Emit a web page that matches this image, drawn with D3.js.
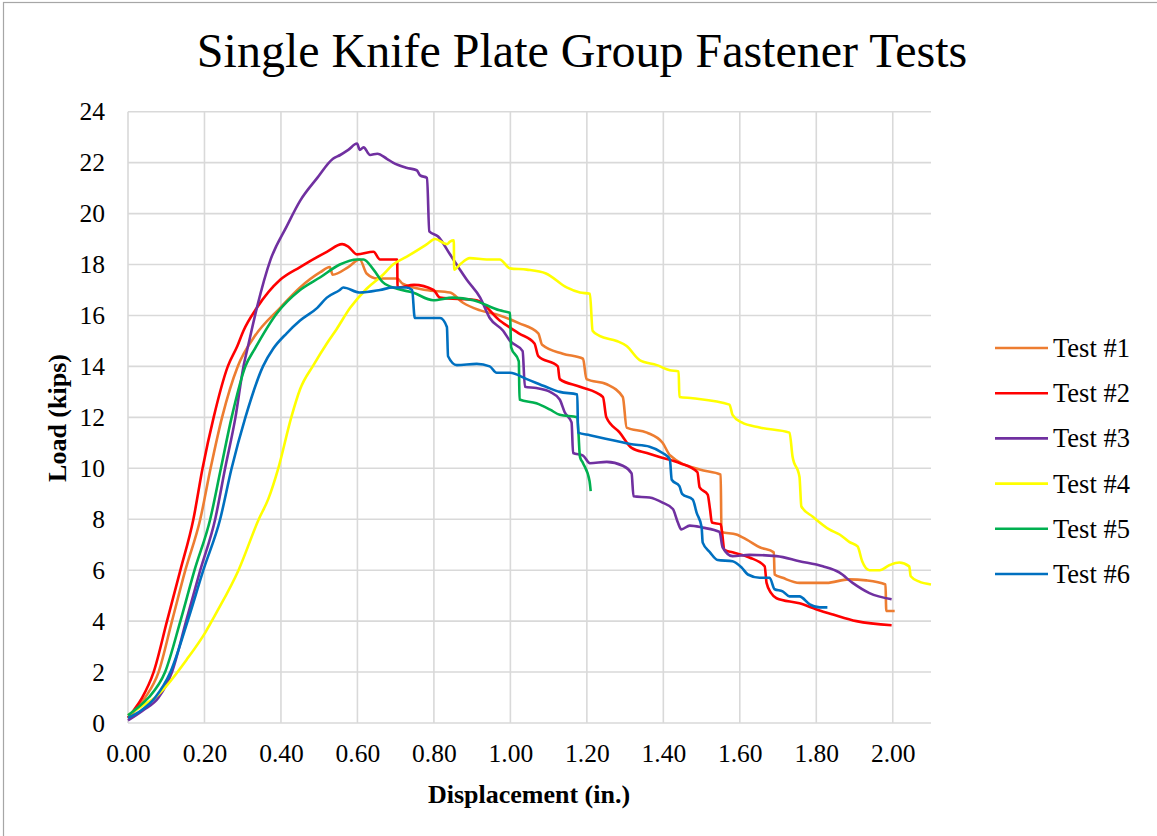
<!DOCTYPE html>
<html>
<head>
<meta charset="utf-8">
<script src="https://cdn.jsdelivr.net/npm/d3@7"></script>
<style>
  body { margin: 0; background: #fff; }
  svg { display: block; font-family: "Liberation Serif", "Times New Roman", serif; }
</style>
</head>
<body>
<svg id="chart" width="1157" height="836"></svg>
<script>
// series names + colours (legend order)
const seriesNames = ['Test #1', 'Test #2', 'Test #3', 'Test #4', 'Test #5', 'Test #6'];
const seriesColors = ['#ED7D31', '#FF0000', '#7030A0', '#FFFF00', '#00B050', '#0070C0'];

// [displacement (in.), load (kips)]
const test1 = [[0,0.2],[0.02,0.5],[0.045,1],[0.08,2],[0.115,4],[0.15,6],[0.189,8],[0.216,10],[0.246,12],[0.287,14],[0.332,15.2],[0.398,16.3],[0.45,17.1],[0.503,17.7],[0.528,17.9],[0.535,17.6],[0.576,17.9],[0.606,18.2],[0.624,17.65],[0.652,17.45],[0.704,17.45],[0.718,17.25],[0.779,17.0],[0.842,16.9],[0.876,16.5],[0.921,16.2],[0.972,16.0],[1.022,15.7],[1.073,15.3],[1.083,14.85],[1.137,14.5],[1.19,14.3],[1.199,13.5],[1.252,13.3],[1.294,12.8],[1.304,11.6],[1.357,11.4],[1.398,11.0],[1.418,10.5],[1.495,9.95],[1.55,9.75],[1.552,7.5],[1.591,7.4],[1.618,7.2],[1.652,6.9],[1.689,6.7],[1.691,5.83],[1.712,5.7],[1.756,5.5],[1.827,5.5],[1.885,5.64],[1.931,5.6],[1.981,5.44],[1.983,4.4],[2.005,4.4]];
const test2 = [[0,0.2],[0.015,0.5],[0.037,1],[0.067,2],[0.102,4],[0.137,6],[0.171,8],[0.195,10],[0.224,12],[0.261,14],[0.286,14.8],[0.302,15.4],[0.337,16.3],[0.398,17.4],[0.45,17.9],[0.52,18.5],[0.56,18.8],[0.576,18.7],[0.599,18.4],[0.642,18.5],[0.659,18.2],[0.704,18.2],[0.705,17.1],[0.748,17.2],[0.799,17.0],[0.816,16.7],[0.912,16.6],[0.972,15.8],[1.022,15.3],[1.063,14.9],[1.073,14.4],[1.124,14.0],[1.129,13.5],[1.182,13.2],[1.242,12.8],[1.251,12.0],[1.286,11.4],[1.317,10.8],[1.357,10.6],[1.388,10.45],[1.444,10.2],[1.489,9.85],[1.495,9.25],[1.516,8.97],[1.522,8.4],[1.527,7.87],[1.55,7.8],[1.56,6.8],[1.581,6.7],[1.625,6.5],[1.665,6.15],[1.67,5.5],[1.682,5.1],[1.696,4.9],[1.756,4.7],[1.801,4.46],[1.844,4.26],[1.905,4.0],[1.997,3.84]];
const test3 = [[0,0.1],[0.04,0.5],[0.08,1],[0.115,2],[0.152,4],[0.189,6],[0.228,8],[0.254,10],[0.281,12],[0.302,14],[0.314,14.8],[0.337,16.3],[0.373,18.2],[0.415,19.5],[0.45,20.5],[0.495,21.4],[0.536,22.15],[0.555,22.3],[0.576,22.5],[0.599,22.75],[0.606,22.5],[0.616,22.6],[0.633,22.3],[0.652,22.35],[0.677,22.15],[0.693,22.0],[0.728,21.8],[0.755,21.7],[0.764,21.5],[0.782,21.4],[0.788,19.3],[0.811,19.1],[0.842,18.4],[0.868,17.8],[0.886,17.4],[0.921,16.7],[0.946,15.9],[0.981,15.4],[0.999,15.0],[1.032,14.6],[1.038,13.2],[1.068,13.15],[1.104,13.0],[1.129,12.7],[1.142,12.2],[1.16,11.8],[1.164,10.6],[1.19,10.5],[1.208,10.2],[1.252,10.25],[1.294,10.1],[1.317,9.8],[1.322,8.9],[1.364,8.85],[1.398,8.65],[1.425,8.4],[1.438,7.87],[1.447,7.6],[1.469,7.75],[1.503,7.67],[1.547,7.5],[1.555,6.9],[1.581,6.55],[1.625,6.6],[1.696,6.55],[1.756,6.35],[1.817,6.15],[1.861,5.9],[1.895,5.5],[1.939,5.1],[1.997,4.86]];
const test4 = [[0,0.3],[0.04,0.7],[0.071,1],[0.093,1.33],[0.154,2.5],[0.202,3.55],[0.232,4.35],[0.289,6.0],[0.342,8.0],[0.367,8.8],[0.393,10],[0.427,12],[0.45,13.1],[0.485,14.05],[0.52,14.9],[0.545,15.45],[0.581,16.3],[0.624,17.05],[0.667,17.6],[0.693,18.0],[0.728,18.3],[0.782,18.8],[0.803,19.0],[0.834,18.8],[0.842,18.9],[0.852,18.95],[0.853,17.8],[0.868,18.0],[0.894,18.25],[0.938,18.2],[0.972,18.2],[0.999,17.85],[1.043,17.8],[1.093,17.65],[1.147,17.1],[1.182,16.9],[1.208,16.85],[1.215,15.4],[1.233,15.2],[1.278,15.0],[1.304,14.8],[1.338,14.25],[1.383,14.05],[1.417,13.85],[1.44,13.8],[1.442,12.8],[1.477,12.75],[1.573,12.5],[1.581,12.1],[1.605,11.8],[1.652,11.6],[1.73,11.4],[1.738,10.45],[1.756,9.67],[1.761,8.5],[1.791,8.1],[1.834,7.6],[1.861,7.4],[1.887,7.1],[1.908,6.93],[1.92,6.35],[1.939,6.0],[1.966,6.0],[1.992,6.2],[2.017,6.3],[2.043,6.15],[2.047,5.76],[2.068,5.56],[2.1,5.44]];
const test5 = [[0,0.3],[0.025,0.6],[0.054,1],[0.097,2],[0.137,4],[0.174,6],[0.215,8],[0.243,10],[0.271,12],[0.307,14],[0.332,14.7],[0.39,16.1],[0.45,17.0],[0.503,17.5],[0.554,18.0],[0.599,18.2],[0.616,18.2],[0.642,17.8],[0.667,17.3],[0.704,17.05],[0.745,16.9],[0.798,16.6],[0.85,16.7],[0.903,16.6],[0.972,16.2],[0.999,16.1],[1.002,14.75],[1.022,14.2],[1.024,12.7],[1.068,12.55],[1.104,12.3],[1.129,12.1],[1.175,12.0],[1.182,10.45],[1.19,10.2],[1.207,9.5],[1.21,9.1]];
const test6 = [[0,0.2],[0.035,0.5],[0.071,1],[0.111,2],[0.156,4],[0.197,6],[0.241,8],[0.271,10],[0.307,12],[0.353,14],[0.38,14.7],[0.415,15.3],[0.45,15.8],[0.495,16.3],[0.52,16.7],[0.554,17.0],[0.563,17.1],[0.606,16.9],[0.659,17.0],[0.693,17.1],[0.728,17.1],[0.743,17.0],[0.75,15.9],[0.772,15.9],[0.816,15.9],[0.834,15.55],[0.837,14.4],[0.86,14.05],[0.912,14.1],[0.946,14.0],[0.964,13.75],[0.999,13.75],[1.043,13.5],[1.093,13.2],[1.129,13.0],[1.175,12.9],[1.177,11.4],[1.208,11.3],[1.268,11.1],[1.313,10.95],[1.364,10.85],[1.398,10.6],[1.417,10.35],[1.422,9.55],[1.442,9.3],[1.449,9.0],[1.477,8.77],[1.487,8.26],[1.5,7.7],[1.503,7.08],[1.522,6.7],[1.542,6.4],[1.581,6.35],[1.605,6.1],[1.621,5.83],[1.652,5.7],[1.678,5.7],[1.691,5.25],[1.712,5.17],[1.73,4.97],[1.756,4.97],[1.783,4.66],[1.809,4.54],[1.829,4.54]];

const xTicks = [0, 0.2, 0.4, 0.6, 0.8, 1.0, 1.2, 1.4, 1.6, 1.8, 2.0];
const yTicks = [0, 2, 4, 6, 8, 10, 12, 14, 16, 18, 20, 22, 24];

const allSeries = [test1, test2, test3, test4, test5, test6];

const svg = d3.select('#chart');
const plot = { left: 128, right: 931, top: 111.7, bottom: 723 };

// chart frame (only top + left edges show in the window)
svg.append('rect')
    .attr('x', 3.5).attr('y', 2.5)
    .attr('width', 1200).attr('height', 900)
    .attr('fill', 'none')
    .attr('stroke', '#a6a6a6')
    .attr('stroke-width', 1.2);

const x = d3.scaleLinear().domain([0, 2.1]).range([plot.left, plot.right]);
const y = d3.scaleLinear().domain([0, 24]).range([plot.bottom, plot.top]);

// gridlines
const grid = svg.append('g').attr('stroke', '#d9d9d9').attr('stroke-width', 1.6);
grid.selectAll('line.h')
    .data(yTicks)
    .join('line')
    .attr('class', 'h')
    .attr('x1', plot.left).attr('x2', plot.right)
    .attr('y1', d => y(d)).attr('y2', d => y(d));
grid.selectAll('line.v')
    .data(xTicks)
    .join('line')
    .attr('class', 'v')
    .attr('x1', d => x(d)).attr('x2', d => x(d))
    .attr('y1', plot.top).attr('y2', plot.bottom);

// axes (labels only, lines come from the grid)
const xAxis = svg.append('g')
    .attr('transform', `translate(0,${plot.bottom})`)
    .call(d3.axisBottom(x).tickValues(xTicks).tickFormat(d3.format('.2f')).tickSize(0).tickPadding(21));
const yAxis = svg.append('g')
    .attr('transform', `translate(${plot.left},0)`)
    .call(d3.axisLeft(y).tickValues(yTicks).tickFormat(d3.format('d')).tickSize(0).tickPadding(23));
[xAxis, yAxis].forEach(a => {
    a.select('.domain').remove();
    a.selectAll('text')
        .attr('font-family', '"Liberation Serif", serif')
        .attr('font-size', 25.5)
        .attr('fill', '#000');
});

// lines
const line = d3.line()
    .curve(d3.curveMonotoneX)
    .x(d => x(d[0]))
    .y(d => y(d[1]));

svg.append('g')
    .attr('fill', 'none')
    .attr('stroke-width', 2.6)
    .attr('stroke-linejoin', 'round')
    .selectAll('path')
    .data(allSeries)
    .join('path')
    .attr('stroke', (d, i) => seriesColors[i])
    .attr('d', line);

// title
svg.append('text')
    .attr('x', 582).attr('y', 67)
    .attr('text-anchor', 'middle')
    .attr('font-size', 48)
    .text('Single Knife Plate Group Fastener Tests');

svg.append('text')
    .attr('x', 529).attr('y', 803)
    .attr('text-anchor', 'middle')
    .attr('font-size', 26)
    .attr('font-weight', 'bold')
    .text('Displacement (in.)');

svg.append('text')
    .attr('transform', 'translate(66,418) rotate(-90)')
    .attr('text-anchor', 'middle')
    .attr('font-size', 26)
    .attr('font-weight', 'bold')
    .text('Load (kips)');

// legend
const legend = svg.append('g')
    .selectAll('g')
    .data(seriesNames)
    .join('g')
    .attr('transform', (d, i) => `translate(995,${348 + i * 45.2})`);
legend.append('line')
    .attr('x1', 0).attr('x2', 53)
    .attr('stroke', (d, i) => seriesColors[i])
    .attr('stroke-width', 2.6);
legend.append('text')
    .attr('x', 58).attr('y', 9)
    .attr('font-size', 26.5)
    .text(d => d);
</script>
</body>
</html>
